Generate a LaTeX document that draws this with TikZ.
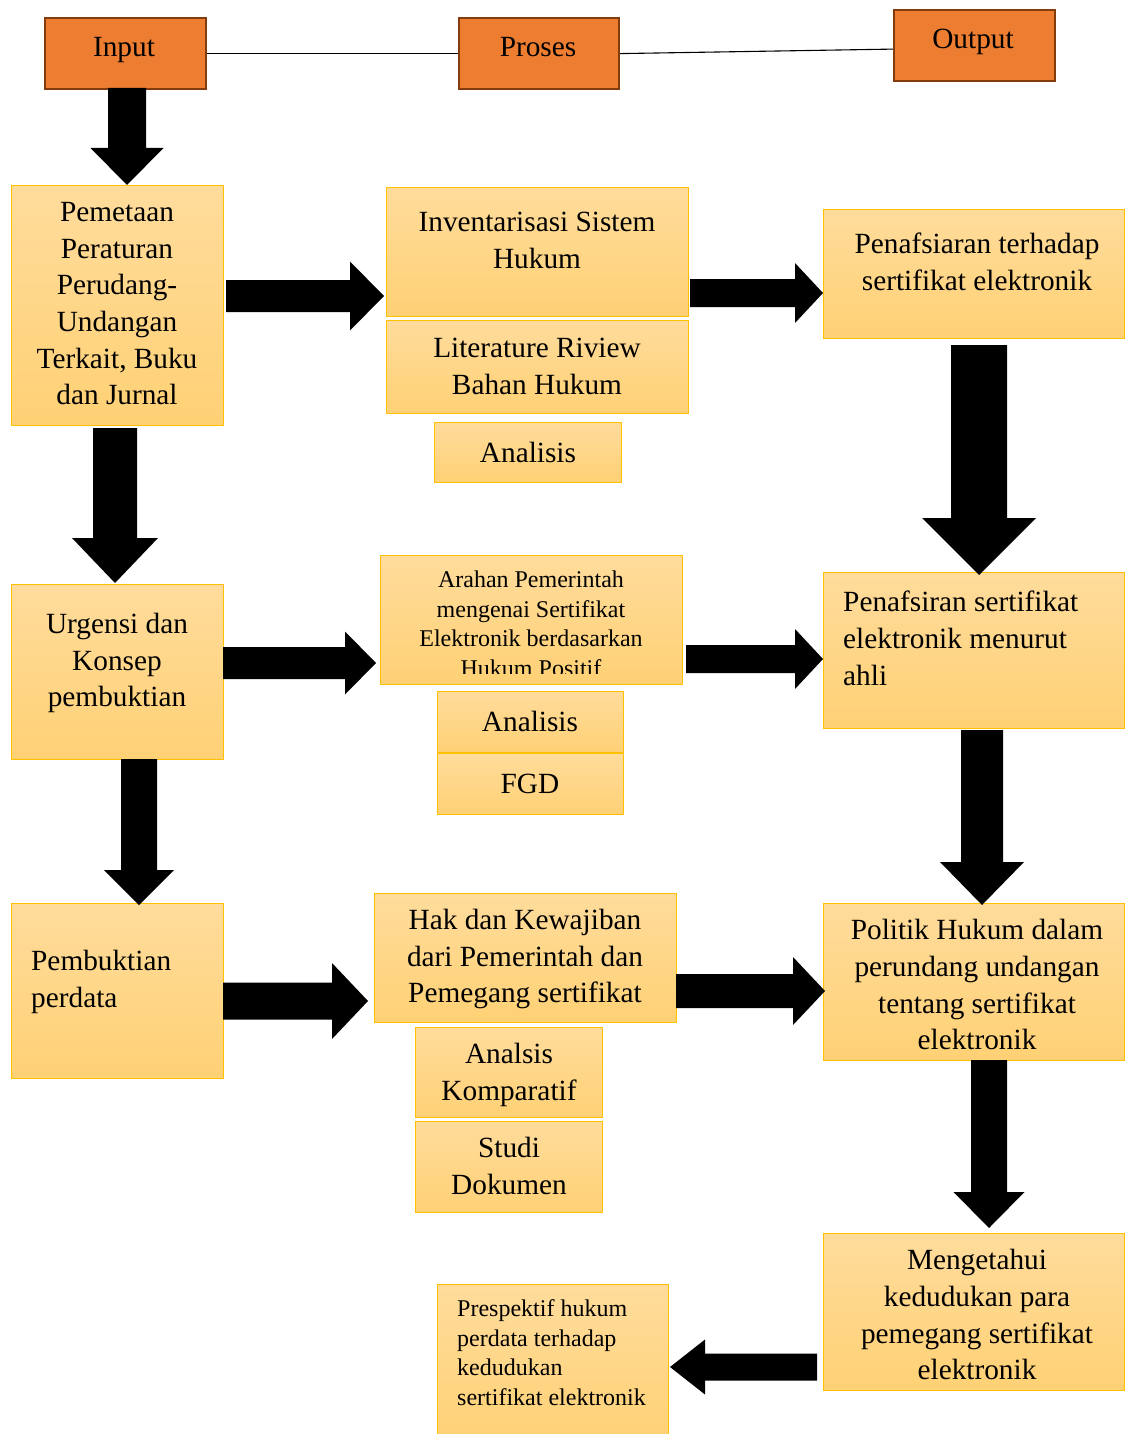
\documentclass[tikz,border=0pt]{standalone}
\usepackage{fontspec}
\setmainfont{Liberation Serif}
\definecolor{hdrfill}{HTML}{ED7D31}
\definecolor{hdrline}{HTML}{843C0C}
\definecolor{boxtop}{HTML}{FFDC9C}
\definecolor{boxbot}{HTML}{FFD175}
\definecolor{boxline}{HTML}{FFC000}
\tikzset{
  hdr/.style={draw=hdrline, fill=hdrfill, line width=2.2pt, inner sep=0pt, anchor=north west},
  ybox/.style={draw=boxline, top color=boxtop, bottom color=boxbot, line width=1.3pt, inner sep=0pt, anchor=north west},
  bigtxt/.style={font=\fontsize{29.3}{36.7}\selectfont, inner sep=0pt, yshift=-5pt, execute at begin node=\strut, execute at end node=\strut},
  smalltxt/.style={font=\fontsize{24}{29.7}\selectfont, inner sep=0pt, yshift=-4pt, execute at begin node=\strut, execute at end node=\strut},
  hline/.style={draw=black, line width=1.1pt}
}
% horizontal block arrow: x1, xh, x2, yc, shaft half, head half
\newcommand\harr[6]{\fill (#1,#4-#5) -- (#2,#4-#5) -- (#2,#4-#6) -- (#3,#4) -- (#2,#4+#6) -- (#2,#4+#5) -- (#1,#4+#5) -- cycle;}
% vertical block arrow: y1, yh, y2, xc, shaft half, head half
\newcommand\varr[6]{\fill (#4-#5,#1) -- (#4-#5,#2) -- (#4-#6,#2) -- (#4,#3) -- (#4+#6,#2) -- (#4+#5,#2) -- (#4+#5,#1) -- cycle;}
\begin{document}
\begin{tikzpicture}[x=1pt,y=-1pt]
\useasboundingbox[fill=white] (0,0) rectangle (1124,1434);

% header boxes
\node[hdr, minimum width=161pt, minimum height=71pt] (in) at (44,17) {};
\node[hdr, minimum width=160pt, minimum height=71pt] (pr) at (458,17) {};
\node[hdr, minimum width=161pt, minimum height=71pt] (out) at (893,9) {};
\node[bigtxt] (t-in) at (124,44) {Input};
\node[bigtxt] (t-pr) at (538,44) {Proses};
\node[bigtxt] (t-out) at (973,36) {Output};
\draw[hline] (in.east) -- (pr.west);
\draw[hline] (pr.east) -- ([yshift=-3.5pt]out.west);

% yellow boxes
\node[ybox, minimum width=212pt, minimum height=240pt] (pem) at (11,185) {};
\node[ybox, minimum width=302pt, minimum height=129pt] (inv) at (386,187) {};
\node[ybox, minimum width=302pt, minimum height=93pt] (lit) at (386,320) {};
\node[ybox, minimum width=187pt, minimum height=60pt] (an1) at (434,422) {};
\node[ybox, minimum width=301pt, minimum height=129pt] (pen1) at (823,209) {};
\node[ybox, minimum width=301pt, minimum height=156pt] (pen2) at (823,572) {};
\node[ybox, minimum width=301pt, minimum height=157pt] (pol) at (823,903) {};
\node[ybox, minimum width=301pt, minimum height=157pt] (men) at (823,1233) {};
\node[ybox, minimum width=231pt, minimum height=160pt] (pre) at (437,1284) {};
\node[ybox, minimum width=212pt, minimum height=175pt] (urg) at (11,584) {};
\node[ybox, minimum width=302pt, minimum height=129pt] (ara) at (380,555) {};
\node[ybox, minimum width=186pt, minimum height=61pt] (an2) at (437,691) {};
\node[ybox, minimum width=186pt, minimum height=61pt] (fgd) at (437,753) {};
\node[ybox, minimum width=212pt, minimum height=175pt] (pmb) at (11,903) {};
\node[ybox, minimum width=302pt, minimum height=129pt] (hak) at (374,893) {};
\node[ybox, minimum width=187pt, minimum height=90pt] (ank) at (415,1027) {};
\node[ybox, minimum width=187pt, minimum height=91pt] (std) at (415,1121) {};

% texts
\node[bigtxt, align=center] (t-pem) at (117,304) {Pemetaan\\Peraturan\\Perudang-\\Undangan\\Terkait, Buku\\dan Jurnal};
\node[bigtxt, align=center] (t-inv) at (537,240.5) {Inventarisasi Sistem\\Hukum};
\node[bigtxt, align=center] (t-lit) at (537,366.5) {Literature Riview\\Bahan Hukum};
\node[bigtxt] (t-an1) at (528,450) {Analisis};
\node[bigtxt, align=center] (t-pen1) at (977,262.5) {Penafsiaran terhadap\\sertifikat elektronik};
\node[bigtxt, align=left, anchor=west] (t-pen2) at (843,638.5) {Penafsiran sertifikat\\elektronik menurut\\ahli};
\node[bigtxt, align=center] (t-pol) at (977,985) {Politik Hukum dalam\\perundang undangan\\tentang sertifikat\\elektronik};
\node[bigtxt, align=center] (t-men) at (977,1315) {Mengetahui\\kedudukan para\\pemegang sertifikat\\elektronik};
\node[smalltxt, align=left, anchor=west] (t-pre) at (457,1353) {Prespektif hukum\\perdata terhadap\\kedudukan\\sertifikat elektronik};
\node[bigtxt, align=center] (t-urg) at (117,660.5) {Urgensi dan\\Konsep\\pembuktian};
\begin{scope}
\clip (380,555) rectangle (682,673);
\node[smalltxt, align=center] (t-ara) at (531,624) {Arahan Pemerintah\\mengenai Sertifikat\\Elektronik berdasarkan\\Hukum Positif};
\end{scope}
\node[bigtxt] (t-an2) at (530,719) {Analisis};
\node[bigtxt] (t-fgd) at (530,781) {FGD};
\node[bigtxt, align=left, anchor=west] (t-pmb) at (31,979) {Pembuktian\\perdata};
\node[bigtxt, align=center] (t-hak) at (525,956.5) {Hak dan Kewajiban\\dari Pemerintah dan\\Pemegang sertifikat};
\node[bigtxt, align=center] (t-ank) at (509,1072) {Analsis\\Komparatif};
\node[bigtxt, align=center] (t-std) at (509,1166.5) {Studi\\Dokumen};

% block arrows
\varr{88}{148}{185}{127}{19}{36.5}
\harr{226}{350}{384}{296}{16}{34.5}
\harr{690}{795}{823}{293}{14}{30}
\varr{345}{518}{575}{979}{28}{57}
\varr{730}{862}{905}{982}{21}{42}
\varr{1060}{1192}{1228}{989}{18}{35.5}
\harr{817}{705}{670}{1367}{13.5}{27.5}
\varr{428}{538}{583}{115}{22}{43}
\harr{223}{345}{376}{663}{16}{31.5}
\harr{686}{795}{823}{659}{14}{30}
\varr{759}{870}{905}{139}{18}{35}
\harr{223}{332}{368}{1001}{18.5}{38}
\harr{676}{793}{825}{991}{17}{34}
\end{tikzpicture}
\end{document}
